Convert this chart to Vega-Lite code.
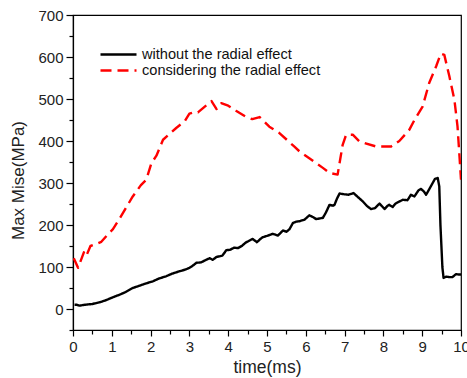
{
  "$schema": "https://vega.github.io/schema/vega-lite/v6.json",
  "width": 388,
  "height": 315,
  "autosize": "none",
  "padding": {"left": 73, "top": 15, "right": 6, "bottom": 48},
  "background": "white",
  "config": {
    "font": "Liberation Sans",
    "view": {"stroke": "#000", "strokeWidth": 1.2},
    "axis": {
      "grid": false,
      "domainColor": "#000",
      "domainWidth": 1.2,
      "tickColor": "#000",
      "tickWidth": 1.2,
      "labelColor": "#222",
      "titleColor": "#222",
      "labelFontSize": 15,
      "titleFontSize": 17,
      "titleFontWeight": "normal"
    }
  },
  "datasets": {
    "curves": [
      {"t": 0.04, "v": 10, "series": "without the radial effect"},
      {"t": 0.1, "v": 10, "series": "without the radial effect"},
      {"t": 0.17, "v": 8, "series": "without the radial effect"},
      {"t": 0.3, "v": 10, "series": "without the radial effect"},
      {"t": 0.5, "v": 12, "series": "without the radial effect"},
      {"t": 0.69, "v": 16, "series": "without the radial effect"},
      {"t": 0.85, "v": 21, "series": "without the radial effect"},
      {"t": 1.03, "v": 28, "series": "without the radial effect"},
      {"t": 1.2, "v": 34, "series": "without the radial effect"},
      {"t": 1.35, "v": 40, "series": "without the radial effect"},
      {"t": 1.54, "v": 50, "series": "without the radial effect"},
      {"t": 1.7, "v": 55, "series": "without the radial effect"},
      {"t": 1.85, "v": 60, "series": "without the radial effect"},
      {"t": 2.06, "v": 66, "series": "without the radial effect"},
      {"t": 2.2, "v": 72, "series": "without the radial effect"},
      {"t": 2.4, "v": 78, "series": "without the radial effect"},
      {"t": 2.55, "v": 84, "series": "without the radial effect"},
      {"t": 2.75, "v": 90, "series": "without the radial effect"},
      {"t": 2.9, "v": 94, "series": "without the radial effect"},
      {"t": 3.0, "v": 98, "series": "without the radial effect"},
      {"t": 3.1, "v": 104, "series": "without the radial effect"},
      {"t": 3.18, "v": 110, "series": "without the radial effect"},
      {"t": 3.3, "v": 111, "series": "without the radial effect"},
      {"t": 3.43, "v": 117, "series": "without the radial effect"},
      {"t": 3.52, "v": 121, "series": "without the radial effect"},
      {"t": 3.6, "v": 117, "series": "without the radial effect"},
      {"t": 3.7, "v": 124, "series": "without the radial effect"},
      {"t": 3.85, "v": 127, "series": "without the radial effect"},
      {"t": 3.95, "v": 140, "series": "without the radial effect"},
      {"t": 4.05, "v": 141, "series": "without the radial effect"},
      {"t": 4.15, "v": 146, "series": "without the radial effect"},
      {"t": 4.25, "v": 145, "series": "without the radial effect"},
      {"t": 4.35, "v": 150, "series": "without the radial effect"},
      {"t": 4.45, "v": 158, "series": "without the radial effect"},
      {"t": 4.55, "v": 163, "series": "without the radial effect"},
      {"t": 4.63, "v": 167, "series": "without the radial effect"},
      {"t": 4.74, "v": 159, "series": "without the radial effect"},
      {"t": 4.82, "v": 166, "series": "without the radial effect"},
      {"t": 4.89, "v": 171, "series": "without the radial effect"},
      {"t": 5.0, "v": 174, "series": "without the radial effect"},
      {"t": 5.15, "v": 179, "series": "without the radial effect"},
      {"t": 5.28, "v": 175, "series": "without the radial effect"},
      {"t": 5.35, "v": 181, "series": "without the radial effect"},
      {"t": 5.41, "v": 187, "series": "without the radial effect"},
      {"t": 5.5, "v": 184, "series": "without the radial effect"},
      {"t": 5.58, "v": 190, "series": "without the radial effect"},
      {"t": 5.67, "v": 205, "series": "without the radial effect"},
      {"t": 5.76, "v": 208, "series": "without the radial effect"},
      {"t": 5.84, "v": 209, "series": "without the radial effect"},
      {"t": 5.97, "v": 213, "series": "without the radial effect"},
      {"t": 6.09, "v": 223, "series": "without the radial effect"},
      {"t": 6.18, "v": 219, "series": "without the radial effect"},
      {"t": 6.27, "v": 214, "series": "without the radial effect"},
      {"t": 6.44, "v": 217, "series": "without the radial effect"},
      {"t": 6.52, "v": 230, "series": "without the radial effect"},
      {"t": 6.61, "v": 248, "series": "without the radial effect"},
      {"t": 6.7, "v": 246, "series": "without the radial effect"},
      {"t": 6.74, "v": 248, "series": "without the radial effect"},
      {"t": 6.8, "v": 262, "series": "without the radial effect"},
      {"t": 6.87, "v": 275, "series": "without the radial effect"},
      {"t": 7.0, "v": 273, "series": "without the radial effect"},
      {"t": 7.1, "v": 272, "series": "without the radial effect"},
      {"t": 7.23, "v": 276, "series": "without the radial effect"},
      {"t": 7.35, "v": 266, "series": "without the radial effect"},
      {"t": 7.47, "v": 256, "series": "without the radial effect"},
      {"t": 7.58, "v": 245, "series": "without the radial effect"},
      {"t": 7.68, "v": 238, "series": "without the radial effect"},
      {"t": 7.78, "v": 240, "series": "without the radial effect"},
      {"t": 7.9, "v": 251, "series": "without the radial effect"},
      {"t": 8.03, "v": 238, "series": "without the radial effect"},
      {"t": 8.1, "v": 245, "series": "without the radial effect"},
      {"t": 8.15, "v": 248, "series": "without the radial effect"},
      {"t": 8.24, "v": 243, "series": "without the radial effect"},
      {"t": 8.3, "v": 250, "series": "without the radial effect"},
      {"t": 8.37, "v": 254, "series": "without the radial effect"},
      {"t": 8.5, "v": 260, "series": "without the radial effect"},
      {"t": 8.62, "v": 259, "series": "without the radial effect"},
      {"t": 8.71, "v": 272, "series": "without the radial effect"},
      {"t": 8.8, "v": 268, "series": "without the radial effect"},
      {"t": 8.9, "v": 282, "series": "without the radial effect"},
      {"t": 8.97, "v": 286, "series": "without the radial effect"},
      {"t": 9.05, "v": 279, "series": "without the radial effect"},
      {"t": 9.1, "v": 272, "series": "without the radial effect"},
      {"t": 9.18, "v": 285, "series": "without the radial effect"},
      {"t": 9.27, "v": 300, "series": "without the radial effect"},
      {"t": 9.33, "v": 310, "series": "without the radial effect"},
      {"t": 9.4, "v": 312, "series": "without the radial effect"},
      {"t": 9.44, "v": 292, "series": "without the radial effect"},
      {"t": 9.47, "v": 200, "series": "without the radial effect"},
      {"t": 9.52, "v": 100, "series": "without the radial effect"},
      {"t": 9.55, "v": 74, "series": "without the radial effect"},
      {"t": 9.62, "v": 77, "series": "without the radial effect"},
      {"t": 9.7, "v": 76, "series": "without the radial effect"},
      {"t": 9.78, "v": 76, "series": "without the radial effect"},
      {"t": 9.87, "v": 83, "series": "without the radial effect"},
      {"t": 9.95, "v": 82, "series": "without the radial effect"},
      {"t": 10.0, "v": 82, "series": "without the radial effect"},
      {"t": 0.02, "v": 121, "series": "considering the radial effect"},
      {"t": 0.13, "v": 98, "series": "considering the radial effect"},
      {"t": 0.28, "v": 135, "series": "considering the radial effect"},
      {"t": 0.34, "v": 126, "series": "considering the radial effect"},
      {"t": 0.45, "v": 150, "series": "considering the radial effect"},
      {"t": 0.6, "v": 155, "series": "considering the radial effect"},
      {"t": 0.73, "v": 160, "series": "considering the radial effect"},
      {"t": 0.9, "v": 178, "series": "considering the radial effect"},
      {"t": 1.03, "v": 190, "series": "considering the radial effect"},
      {"t": 1.2, "v": 215, "series": "considering the radial effect"},
      {"t": 1.54, "v": 268, "series": "considering the radial effect"},
      {"t": 1.75, "v": 295, "series": "considering the radial effect"},
      {"t": 1.89, "v": 308, "series": "considering the radial effect"},
      {"t": 2.02, "v": 347, "series": "considering the radial effect"},
      {"t": 2.15, "v": 365, "series": "considering the radial effect"},
      {"t": 2.32, "v": 403, "series": "considering the radial effect"},
      {"t": 2.5, "v": 418, "series": "considering the radial effect"},
      {"t": 2.66, "v": 431, "series": "considering the radial effect"},
      {"t": 2.88, "v": 447, "series": "considering the radial effect"},
      {"t": 3.0, "v": 465, "series": "considering the radial effect"},
      {"t": 3.13, "v": 469, "series": "considering the radial effect"},
      {"t": 3.22, "v": 468, "series": "considering the radial effect"},
      {"t": 3.5, "v": 490, "series": "considering the radial effect"},
      {"t": 3.57, "v": 495, "series": "considering the radial effect"},
      {"t": 3.7, "v": 476, "series": "considering the radial effect"},
      {"t": 3.82, "v": 490, "series": "considering the radial effect"},
      {"t": 4.0, "v": 484, "series": "considering the radial effect"},
      {"t": 4.2, "v": 472, "series": "considering the radial effect"},
      {"t": 4.45, "v": 458, "series": "considering the radial effect"},
      {"t": 4.62, "v": 452, "series": "considering the radial effect"},
      {"t": 4.81, "v": 457, "series": "considering the radial effect"},
      {"t": 5.06, "v": 434, "series": "considering the radial effect"},
      {"t": 5.32, "v": 419, "series": "considering the radial effect"},
      {"t": 5.7, "v": 387, "series": "considering the radial effect"},
      {"t": 5.84, "v": 375, "series": "considering the radial effect"},
      {"t": 6.09, "v": 359, "series": "considering the radial effect"},
      {"t": 6.27, "v": 347, "series": "considering the radial effect"},
      {"t": 6.44, "v": 336, "series": "considering the radial effect"},
      {"t": 6.61, "v": 324, "series": "considering the radial effect"},
      {"t": 6.82, "v": 320, "series": "considering the radial effect"},
      {"t": 6.95, "v": 391, "series": "considering the radial effect"},
      {"t": 7.04, "v": 415, "series": "considering the radial effect"},
      {"t": 7.21, "v": 415, "series": "considering the radial effect"},
      {"t": 7.38, "v": 399, "series": "considering the radial effect"},
      {"t": 7.81, "v": 387, "series": "considering the radial effect"},
      {"t": 8.2, "v": 387, "series": "considering the radial effect"},
      {"t": 8.41, "v": 400, "series": "considering the radial effect"},
      {"t": 8.67, "v": 427, "series": "considering the radial effect"},
      {"t": 8.8, "v": 450, "series": "considering the radial effect"},
      {"t": 9.01, "v": 482, "series": "considering the radial effect"},
      {"t": 9.18, "v": 538, "series": "considering the radial effect"},
      {"t": 9.36, "v": 578, "series": "considering the radial effect"},
      {"t": 9.48, "v": 608, "series": "considering the radial effect"},
      {"t": 9.57, "v": 605, "series": "considering the radial effect"},
      {"t": 9.7, "v": 554, "series": "considering the radial effect"},
      {"t": 9.83, "v": 498, "series": "considering the radial effect"},
      {"t": 9.91, "v": 435, "series": "considering the radial effect"},
      {"t": 9.95, "v": 379, "series": "considering the radial effect"},
      {"t": 10.0, "v": 308, "series": "considering the radial effect"}
    ]
  },
  "data": {"name": "curves"},
  "layer": [
    {
      "mark": {"type": "line", "strokeWidth": 2.4, "strokeJoin": "round", "clip": true},
      "encoding": {
        "x": {
          "field": "t", "type": "quantitative",
          "scale": {"domain": [0, 10], "nice": false},
          "axis": {"title": "time(ms)", "titleFontSize": 17.5, "values": [0,1,2,3,4,5,6,7,8,9,10], "tickSize": 6, "labelPadding": 3, "titlePadding": 4, "labelFlush": false}
        },
        "y": {
          "field": "v", "type": "quantitative",
          "scale": {"domain": [-50, 700], "nice": false, "zero": false},
          "axis": {"title": "Max Mise(MPa)", "titleY": 165, "values": [0,100,200,300,400,500,600,700], "tickSize": 7, "labelPadding": 3, "titlePadding": 10}
        },
        "color": {
          "field": "series", "type": "nominal",
          "scale": {"domain": ["without the radial effect", "considering the radial effect"], "range": ["#000000", "#ff0000"]},
          "legend": {
            "title": null, "orient": "none", "legendX": 38, "legendY": 32, "padding": 0,
            "symbolType": "M-3,0H3", "symbolSize": 144, "symbolStrokeWidth": 2.5,
            "labelFontSize": 14.6, "labelColor": "#111", "labelOffset": 16, "rowPadding": 0, "labelLimit": 0
          }
        },
        "strokeDash": {
          "field": "series", "type": "nominal",
          "scale": {"domain": ["without the radial effect", "considering the radial effect"], "range": [[1, 0], [11, 6]]},
          "legend": {
            "title": null, "orient": "none", "legendX": 38, "legendY": 32, "padding": 0,
            "symbolType": "M-3,0H3", "symbolSize": 144, "symbolStrokeWidth": 2.5,
            "labelFontSize": 14.6, "labelColor": "#111", "labelOffset": 16, "rowPadding": 0, "labelLimit": 0
          }
        }
      }
    },
    {
      "mark": {"type": "point", "opacity": 0},
      "encoding": {
        "x": {
          "field": "t", "type": "quantitative",
          "axis": {"orient": "bottom", "title": null, "labels": false, "domain": false, "tickSize": 4, "values": [0.5,1.5,2.5,3.5,4.5,5.5,6.5,7.5,8.5,9.5]}
        },
        "y": {
          "field": "v", "type": "quantitative",
          "axis": {"orient": "left", "title": null, "labels": false, "domain": false, "tickSize": 4, "values": [-50,50,150,250,350,450,550,650]}
        }
      }
    }
  ],
  "resolve": {"axis": {"x": "independent", "y": "independent"}}
}
